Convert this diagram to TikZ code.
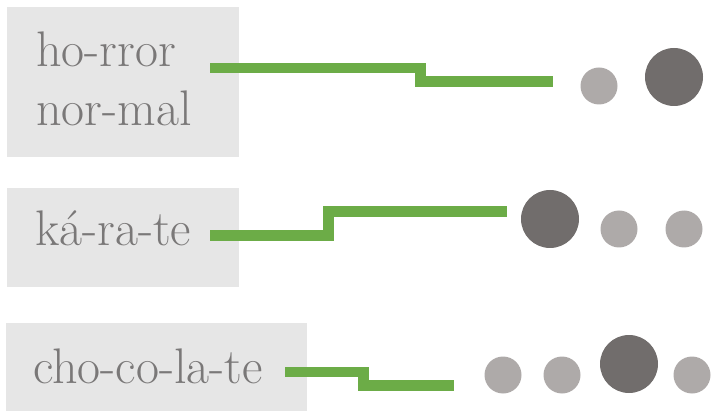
\documentclass[tikz,border=0pt]{standalone}
\usetikzlibrary{positioning}
\definecolor{boxgray}{HTML}{E6E6E6}
\definecolor{wordgray}{HTML}{7A7878}
\definecolor{stepgreen}{HTML}{6CAC47}
\definecolor{stressdot}{HTML}{716D6C}
\definecolor{softdot}{HTML}{AEAAA9}
\tikzset{
  wordbox/.style={fill=boxgray, draw=none, inner sep=0pt, anchor=north west},
  word/.style={text=wordgray, inner sep=0pt, anchor=base west,
    font=\fontsize{50}{60}\selectfont},
  pitch/.style={draw=stepgreen, line width=10.5pt, line cap=butt, line join=miter},
  strong/.style={circle, fill=stressdot, draw=none, inner sep=0pt, minimum size=58pt},
  weak/.style={circle, fill=softdot, draw=none, inner sep=0pt, minimum size=37pt},
}
\begin{document}
\begin{tikzpicture}[x=1pt, y=-1pt]
  \useasboundingbox (0,0) rectangle (711,411);

  % word boxes
  \node[wordbox, minimum width=232pt, minimum height=150pt] (box1) at (7,7) {};
  \node[wordbox, minimum width=232pt, minimum height=99pt] (box2) at (7,188) {};
  \node[wordbox, minimum width=301pt, minimum height=95pt] (box3) at (6,323) {};

  % syllabified words
  \node[word] (w1a) at (36,67) {ho-rror};
  \node[word] (w1b) at (36,126) {nor-mal};
  \node[word] (w2) at (35,246) {ká-ra-te};
  \node[word] (w3) at (33,383) {cho-co-la-te};

  % stress dots
  \node[weak]   (d11) at (599,86) {};
  \node[strong] (d12) at (674,77) {};

  \node[strong] (d21) at (550,219) {};
  \node[weak]   (d22) at (619,229) {};
  \node[weak]   (d23) at (684,229) {};

  \node[weak]   (d31) at (503,375) {};
  \node[weak]   (d32) at (562,375) {};
  \node[strong] (d33) at (629,364) {};
  \node[weak]   (d34) at (692,375) {};

  % pitch contour end points
  \coordinate (p1s) at (210,68);
  \coordinate (p1e) at (553,81.5);
  \coordinate (p2s) at (210,235.5);
  \coordinate (p2e) at (507,211.3);
  \coordinate (p3s) at (285,372);
  \coordinate (p3e) at (454,385.3);

  % pitch contours
  \draw[pitch] (p1s) -- (420.5,68) |- (p1e);
  \draw[pitch] (p2s) -- (328.5,235.5) |- (p2e);
  \draw[pitch] (p3s) -- (363.5,372) |- (p3e);
\end{tikzpicture}
\end{document}
